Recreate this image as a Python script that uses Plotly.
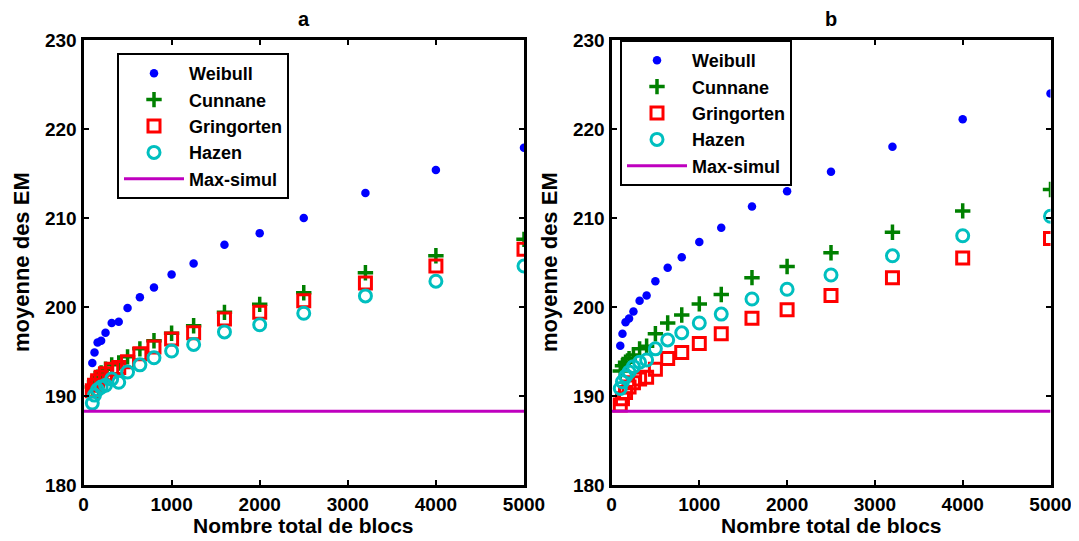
import plotly.graph_objects as go

blocs = [100, 125, 160, 200, 250, 320, 400, 500, 640, 800, 1000, 1250, 1600, 2000, 2500, 3200, 4000, 5000]

# Panel a
weibull_a = [193.7, 194.9, 196.0, 196.2, 197.1, 198.2, 198.35, 199.9, 201.1, 202.2, 203.65, 204.9, 207.0, 208.3, 210.0, 212.8, 215.4, 217.9]
cunnane_a = [191.0, 191.6, 192.1, 192.6, 193.0, 193.5, 193.7, 194.4, 195.3, 196.2, 197.05, 197.9, 199.4, 200.3, 201.6, 203.85, 205.75, 207.6]
gringorten_a = [190.6, 191.2, 191.7, 192.1, 192.5, 193.0, 193.2, 193.85, 194.75, 195.5, 196.4, 197.1, 198.65, 199.4, 200.7, 202.7, 204.6, 206.5]
hazen_a = [189.2, 190.1, 190.7, 191.0, 191.2, 191.9, 191.55, 192.7, 193.5, 194.3, 195.05, 195.8, 197.2, 198.0, 199.3, 201.25, 202.9, 204.6]

# Panel b
weibull_b = [195.65, 197.0, 198.3, 198.7, 199.5, 200.7, 201.3, 202.9, 204.4, 205.6, 207.3, 208.9, 211.3, 213.0, 215.2, 218.0, 221.1, 224.0]
cunnane_b = [192.8, 193.4, 193.8, 194.2, 194.6, 195.3, 195.6, 197.0, 198.2, 199.1, 200.35, 201.4, 203.3, 204.55, 206.1, 208.4, 210.8, 213.2]
gringorten_b = [189.0, 189.7, 190.4, 191.0, 191.5, 191.9, 192.1, 193.0, 194.2, 194.9, 195.9, 197.0, 198.75, 199.7, 201.3, 203.3, 205.5, 207.7]
hazen_b = [190.85, 191.6, 192.2, 192.7, 193.3, 193.8, 194.05, 195.3, 196.3, 197.1, 198.2, 199.2, 200.9, 202.0, 203.6, 205.75, 208.0, 210.2]

max_simul_x = [0, 5000]
max_simul_y = [188.3, 188.3]

x_ticks = [0, 1000, 2000, 3000, 4000, 5000]
y_ticks = [180, 190, 200, 210, 220, 230]

FONT = "Liberation Sans, Arial, sans-serif"
W, H = 1079, 541
OFF = 8  # page body margin offset


def px(x):
    return (x - OFF) / W


def py(y):
    return (H - (y - OFF)) / H


fig = go.Figure()


def add_panel(xa, ya, leg, w, c, g, h):
    fig.add_trace(go.Scatter(x=blocs, y=w, mode="markers", name="Weibull",
                             marker=dict(symbol="circle", size=8.5, color="#0000FF"),
                             xaxis=xa, yaxis=ya, legend=leg))
    fig.add_trace(go.Scatter(x=blocs, y=c, mode="markers", name="Cunnane",
                             marker=dict(symbol="cross-thin", size=11, line=dict(width=3.5, color="#008000"), color="#008000"),
                             xaxis=xa, yaxis=ya, legend=leg))
    fig.add_trace(go.Scatter(x=blocs, y=g, mode="markers", name="Gringorten",
                             marker=dict(symbol="square-open", size=12, line=dict(width=3, color="#FF0000"), color="#FF0000"),
                             xaxis=xa, yaxis=ya, legend=leg))
    fig.add_trace(go.Scatter(x=blocs, y=h, mode="markers", name="Hazen",
                             marker=dict(symbol="circle-open", size=12, line=dict(width=3, color="#00BFBF"), color="#00BFBF"),
                             xaxis=xa, yaxis=ya, legend=leg))
    fig.add_trace(go.Scatter(x=max_simul_x, y=max_simul_y, mode="lines", name="Max-simul",
                             line=dict(color="#BF00BF", width=3),
                             xaxis=xa, yaxis=ya, legend=leg))


add_panel("x", "y", "legend", weibull_a, cunnane_a, gringorten_a, hazen_a)
add_panel("x2", "y2", "legend2", weibull_b, cunnane_b, gringorten_b, hazen_b)

dom_y = [py(485), py(40)]
dom_a = [px(83.5), px(524)]
dom_b = [px(611.5), px(1050.5)]

axis_common = dict(showline=True, linewidth=3, linecolor="black", mirror="allticks",
                   ticks="inside", ticklen=5, tickwidth=2, tickcolor="black",
                   showgrid=False, zeroline=False, automargin=False,
                   tickfont=dict(family=FONT, size=19, color="black", weight="bold"))

fig.update_layout(
    template="none",
    width=W, height=H,
    margin=dict(l=0, r=0, t=0, b=0, pad=0),
    paper_bgcolor="white", plot_bgcolor="white",
    font=dict(family=FONT, color="black"),
    xaxis=dict(domain=dom_a, range=[0, 5000], tickvals=x_ticks, anchor="y", **axis_common),
    yaxis=dict(domain=dom_y, range=[180, 230], tickvals=y_ticks, anchor="x", **axis_common),
    xaxis2=dict(domain=dom_b, range=[0, 5000], tickvals=x_ticks, anchor="y2", **axis_common),
    yaxis2=dict(domain=dom_y, range=[180, 230], tickvals=y_ticks, anchor="x2", **axis_common),
    legend=dict(x=px(117), y=py(53), xanchor="left", yanchor="top",
                bgcolor="white", bordercolor="black", borderwidth=2,
                font=dict(family=FONT, size=18, color="black", weight="bold"),
                itemwidth=60, tracegroupgap=0),
    legend2=dict(x=px(620), y=py(40), xanchor="left", yanchor="top",
                 bgcolor="white", bordercolor="black", borderwidth=2,
                 font=dict(family=FONT, size=18, color="black", weight="bold"),
                 itemwidth=60, tracegroupgap=0),
    showlegend=True,
)

annots = [
    dict(text="a", x=(dom_a[0] + dom_a[1]) / 2, y=py(19), font=dict(size=20, weight="bold")),
    dict(text="b", x=(dom_b[0] + dom_b[1]) / 2, y=py(19), font=dict(size=20, weight="bold")),
    dict(text="Nombre total de blocs", x=(dom_a[0] + dom_a[1]) / 2, y=py(525), font=dict(size=21, weight="bold")),
    dict(text="Nombre total de blocs", x=(dom_b[0] + dom_b[1]) / 2, y=py(525), font=dict(size=21, weight="bold")),
    dict(text="moyenne des EM", x=px(22), y=py(262), textangle=-90, font=dict(size=22, weight="bold")),
    dict(text="moyenne des EM", x=px(550), y=py(262), textangle=-90, font=dict(size=22, weight="bold")),
]
for a in annots:
    a.update(xref="paper", yref="paper", showarrow=False, xanchor="center", yanchor="middle")
    a["font"].update(family=FONT, color="black")
    fig.add_annotation(**a)

fig.write_html("out.html")
